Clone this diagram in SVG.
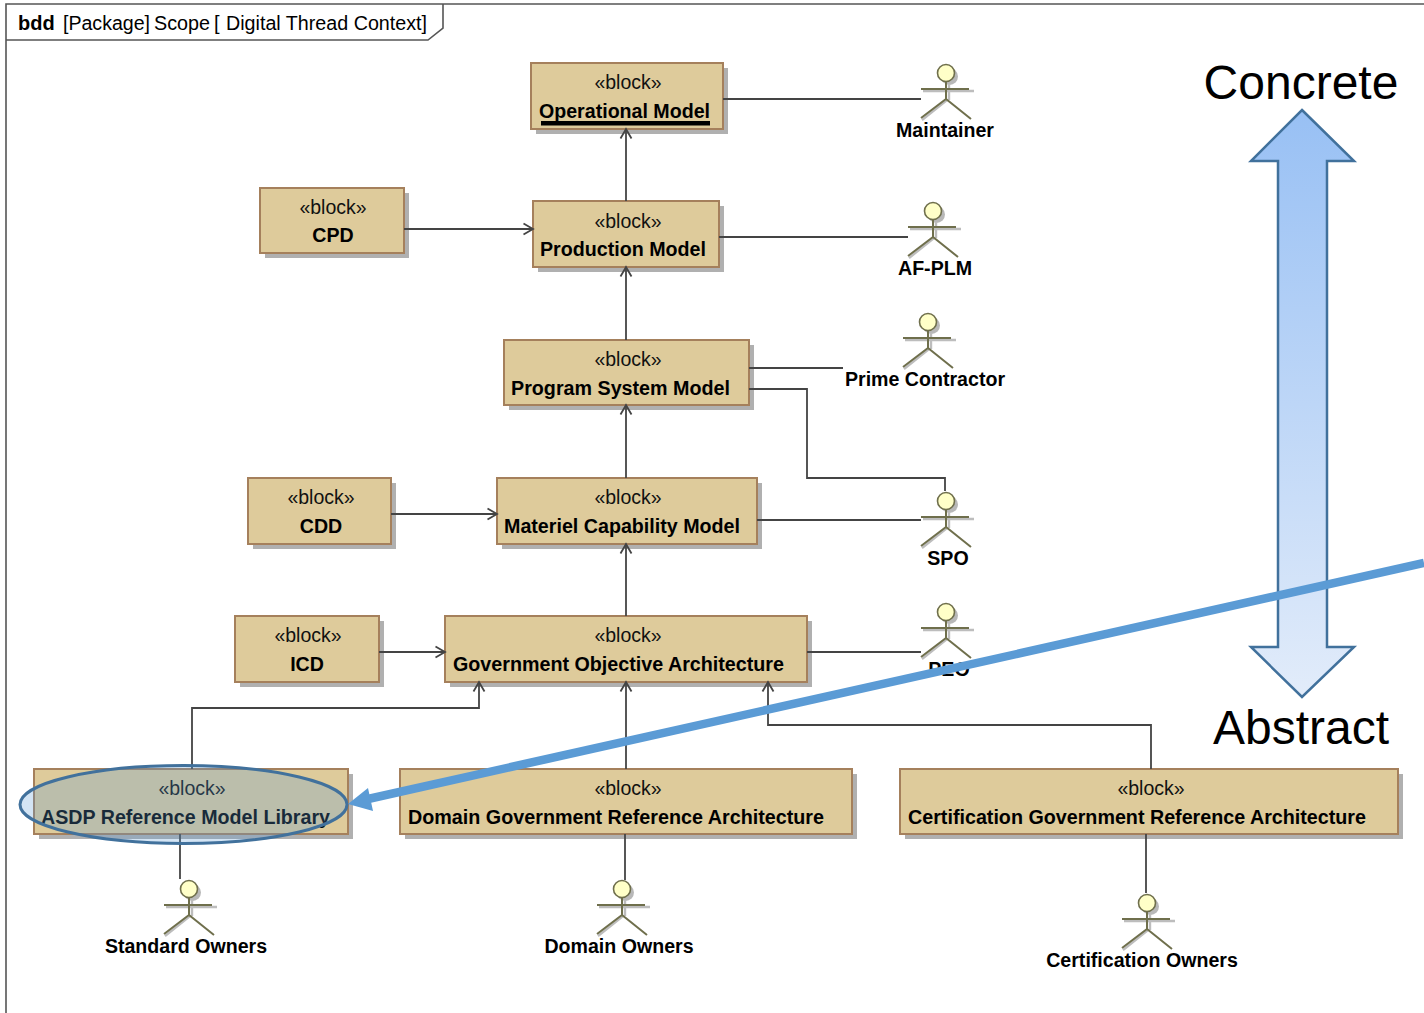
<svg xmlns="http://www.w3.org/2000/svg" xmlns:xlink="http://www.w3.org/1999/xlink" width="1424" height="1013" viewBox="0 0 1424 1013">
<style>
text{font-family:"Liberation Sans",Arial,sans-serif;fill:#000}
.st{font-size:19.5px;text-anchor:middle;fill:#111}
.t{font-size:20px;font-weight:bold}
.a{font-size:19.6px;font-weight:bold;text-anchor:middle}
.f{font-size:20px}
.big{font-size:48px;text-anchor:middle}
.b{fill:#decb9b;stroke:#a5805c;stroke-width:2}
.s{fill:#b0b0b0}
.c{fill:none;stroke:#444;stroke-width:1.8}
.ar{marker-end:url(#open)}
.al{fill:none;stroke:#6f6f4c;stroke-width:2}
.ash{fill:none;stroke:#bdbdbd;stroke-width:2.4}
.hd{fill:#ffffc8;stroke:#6f6f4c;stroke-width:1.6}
.hs{fill:#b8b8b8}
</style>
<defs>
<marker id="open" markerUnits="userSpaceOnUse" markerWidth="16" markerHeight="16" refX="13.5" refY="8" orient="auto">
<path d="M4 2.5L13.5 8L4 13.5" fill="none" stroke="#444" stroke-width="1.8"/>
</marker>
<linearGradient id="grad" x1="0" y1="0" x2="0" y2="1">
<stop offset="0" stop-color="#98c0f4"/><stop offset="1" stop-color="#e2ecfa"/>
</linearGradient>
<g id="actor">
<circle class="hs" cx="3.5" cy="3.5" r="8.5"/>
<path class="ash" d="M-23 18H28M3 11V27M-24 47L1 27"/>
<path class="al" d="M-25 16H23M0 8.5V26M-25 45L0 26L25 46"/>
<circle class="hd" r="8.5"/>
</g>
</defs>
<rect width="1424" height="1013" fill="#fff"/>
<g id="frame">
<path d="M6 1013V4H1424" fill="none" stroke="#555" stroke-width="1.6"/>
<path d="M6 40H428L443 28V4" fill="none" stroke="#555" stroke-width="1.6"/>
<text x="18" y="30" class="t">bdd</text>
<text x="63" y="30" class="f" textLength="87" lengthAdjust="spacingAndGlyphs">[Package]</text>
<text x="154" y="30" class="f" textLength="56" lengthAdjust="spacingAndGlyphs">Scope</text>
<text x="214" y="30" class="f">[</text>
<text x="226" y="30" class="f" textLength="201" lengthAdjust="spacingAndGlyphs">Digital Thread Context]</text>
</g>
<g id="operational-model">
<rect class="s" x="536" y="68" width="192" height="66"/><rect class="b" x="531" y="63" width="192" height="66"/>
<text class="st" x="628" y="89">«block»</text>
<text class="t" x="539" y="118" textLength="171" lengthAdjust="spacingAndGlyphs">Operational Model</text>
<rect x="541" y="121" width="169" height="4.5"/>
</g>
<g id="production-model">
<rect class="s" x="538" y="206" width="186" height="66"/><rect class="b" x="533" y="201" width="186" height="66"/>
<text class="st" x="628" y="228">«block»</text>
<text class="t" x="540" y="256" textLength="166" lengthAdjust="spacingAndGlyphs">Production Model</text>
</g>
<g id="program-system-model">
<rect class="s" x="509" y="345" width="245" height="65"/><rect class="b" x="504" y="340" width="245" height="65"/>
<text class="st" x="628" y="366">«block»</text>
<text class="t" x="511" y="395" textLength="219" lengthAdjust="spacingAndGlyphs">Program System Model</text>
</g>
<g id="materiel-capability-model">
<rect class="s" x="502" y="483" width="260" height="66"/><rect class="b" x="497" y="478" width="260" height="66"/>
<text class="st" x="628" y="504">«block»</text>
<text class="t" x="504" y="533" textLength="236" lengthAdjust="spacingAndGlyphs">Materiel Capability Model</text>
</g>
<g id="government-objective-architecture">
<rect class="s" x="450" y="621" width="362" height="66"/><rect class="b" x="445" y="616" width="362" height="66"/>
<text class="st" x="628" y="642">«block»</text>
<text class="t" x="453" y="671" textLength="331" lengthAdjust="spacingAndGlyphs">Government Objective Architecture</text>
</g>
<g id="cpd">
<rect class="s" x="265" y="193" width="144" height="65"/><rect class="b" x="260" y="188" width="144" height="65"/>
<text class="st" x="333" y="214">«block»</text>
<text class="a" x="333" y="242">CPD</text>
</g>
<g id="cdd">
<rect class="s" x="253" y="483" width="143" height="66"/><rect class="b" x="248" y="478" width="143" height="66"/>
<text class="st" x="321" y="504">«block»</text>
<text class="a" x="321" y="533">CDD</text>
</g>
<g id="icd">
<rect class="s" x="240" y="621" width="144" height="66"/><rect class="b" x="235" y="616" width="144" height="66"/>
<text class="st" x="308" y="642">«block»</text>
<text class="a" x="307" y="671">ICD</text>
</g>
<g id="asdp-reference-model-library">
<rect class="s" x="39" y="774" width="314" height="65"/><rect class="b" x="34" y="769" width="314" height="65"/>
<text class="st" x="192" y="795">«block»</text>
<text class="t" x="41" y="824" textLength="289" lengthAdjust="spacingAndGlyphs">ASDP Reference Model Library</text>
</g>
<g id="domain-government-reference-architecture">
<rect class="s" x="405" y="774" width="452" height="65"/><rect class="b" x="400" y="769" width="452" height="65"/>
<text class="st" x="628" y="795">«block»</text>
<text class="t" x="408" y="824" textLength="416" lengthAdjust="spacingAndGlyphs">Domain Government Reference Architecture</text>
</g>
<g id="certification-government-reference-architecture">
<rect class="s" x="905" y="774" width="498" height="65"/><rect class="b" x="900" y="769" width="498" height="65"/>
<text class="st" x="1151" y="795">«block»</text>
<text class="t" x="908" y="824" textLength="458" lengthAdjust="spacingAndGlyphs">Certification Government Reference Architecture</text>
</g>
<g id="actor-maintainer"><use xlink:href="#actor" href="#actor" x="946" y="73"/><text class="a" x="945" y="137">Maintainer</text></g>
<g id="actor-af-plm"><use xlink:href="#actor" href="#actor" x="933" y="211"/><text class="a" x="935" y="275">AF-PLM</text></g>
<g id="actor-prime-contractor"><use xlink:href="#actor" href="#actor" x="928" y="322"/><text class="a" x="925" y="386">Prime Contractor</text></g>
<g id="actor-spo"><use xlink:href="#actor" href="#actor" x="946" y="501"/><text class="a" x="948" y="565">SPO</text></g>
<g id="actor-peo"><use xlink:href="#actor" href="#actor" x="946" y="612"/><text class="a" x="949" y="676">PEO</text></g>
<g id="actor-standard-owners"><use xlink:href="#actor" href="#actor" x="189" y="889"/><text class="a" x="186" y="953">Standard Owners</text></g>
<g id="actor-domain-owners"><use xlink:href="#actor" href="#actor" x="622" y="889"/><text class="a" x="619" y="953">Domain Owners</text></g>
<g id="actor-certification-owners"><use xlink:href="#actor" href="#actor" x="1147" y="903"/><text class="a" x="1142" y="967">Certification Owners</text></g>
<g id="connectors">
<path class="c ar" d="M626 201V129"/>
<path class="c ar" d="M404 229H533"/>
<path class="c ar" d="M626 340V267"/>
<path class="c ar" d="M626 478V405"/>
<path class="c ar" d="M391 514H497"/>
<path class="c ar" d="M626 616V544"/>
<path class="c ar" d="M379 652H445"/>
<path class="c ar" d="M626 769V682"/>
<path class="c ar" d="M192 769V708H479V682"/>
<path class="c ar" d="M1151 769V725H768V682"/>
<path class="c" d="M723 99H921"/>
<path class="c" d="M719 237H908"/>
<path class="c" d="M749 368H843"/>
<path class="c" d="M749 389H807V478H945V491"/>
<path class="c" d="M757 520H921"/>
<path class="c" d="M807 652H921"/>
<path class="c" d="M180 834V879"/>
<path class="c" d="M625 834V880"/>
<path class="c" d="M1146 834V893"/>
</g>
<g id="scale">
<polygon points="1302,110 1354,161 1327,161 1327,647 1354,647 1302,697 1251,647 1278,647 1278,161 1251,161" fill="url(#grad)" stroke="#41719c" stroke-width="2.5"/>
<text class="big" x="1301" y="99">Concrete</text>
<text class="big" x="1301" y="744">Abstract</text>
</g>
<g id="callout">
<ellipse cx="183.5" cy="804.5" rx="163.5" ry="39" fill="#5b9bd5" fill-opacity=".27" stroke="#41719c" stroke-width="3"/>
<line x1="1424" y1="563" x2="368" y2="799" stroke="#5b9bd5" stroke-width="8.5"/>
<polygon points="348,804 368,788 373,811" fill="#5b9bd5"/>
</g>
</svg>
